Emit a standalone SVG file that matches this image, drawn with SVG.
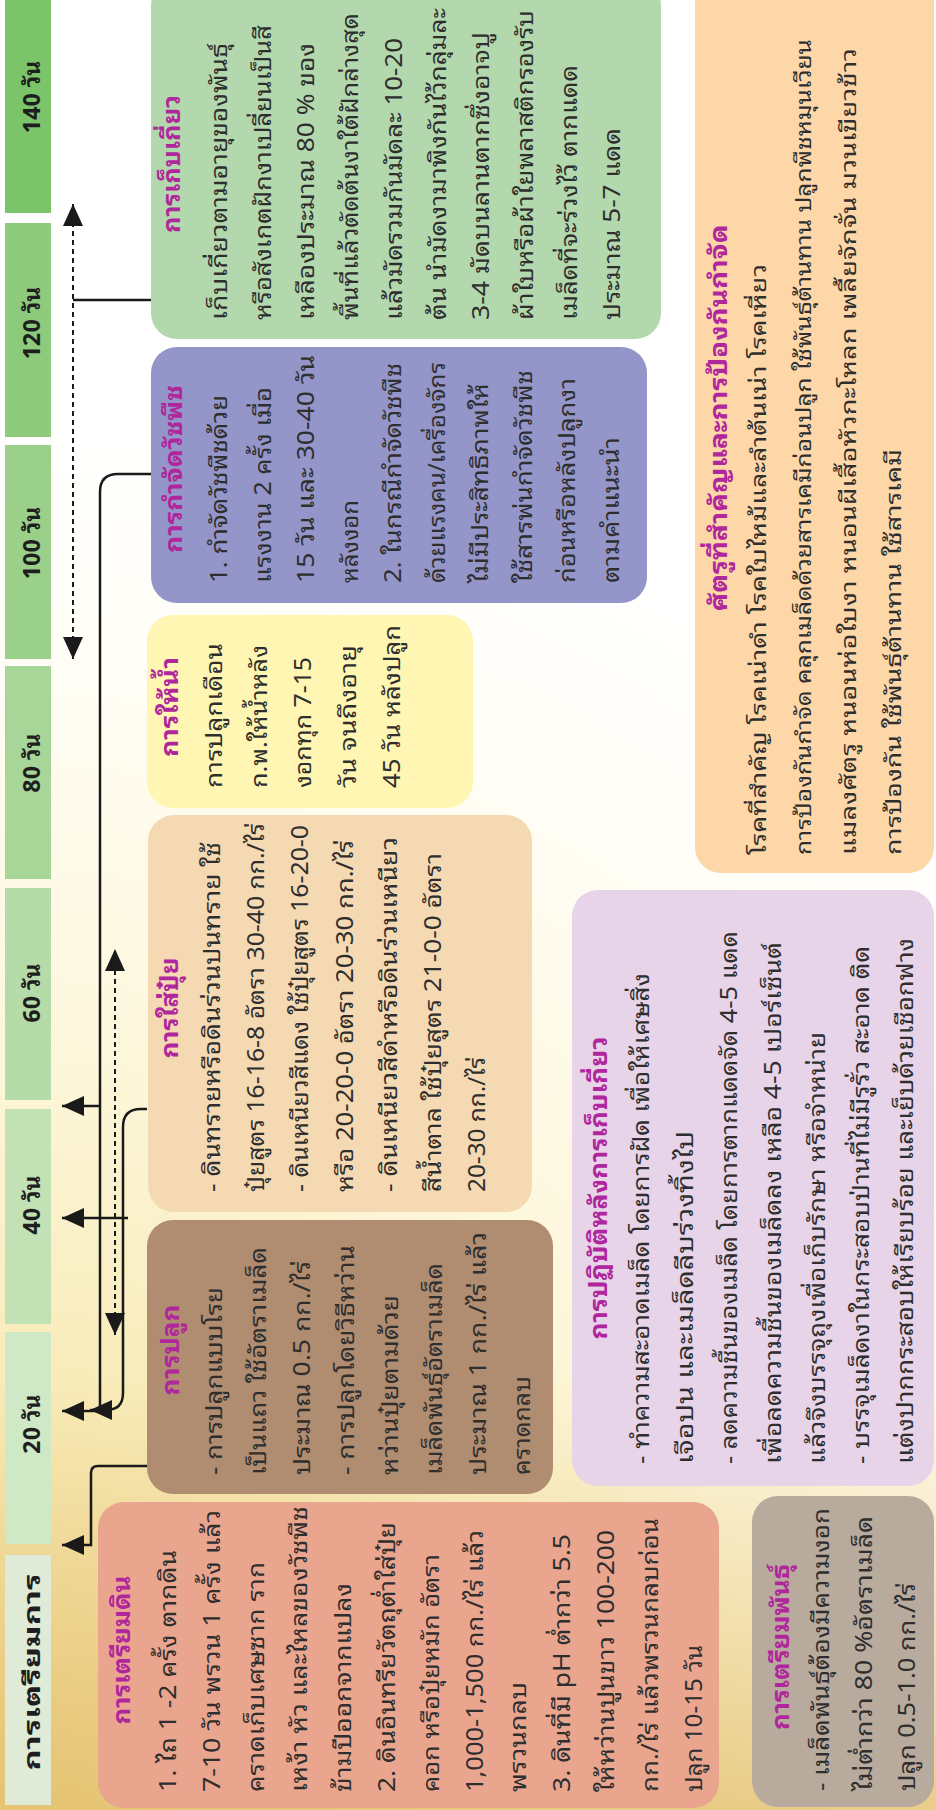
<svg xmlns="http://www.w3.org/2000/svg" width="936" height="1810" viewBox="0 0 936 1810">
<defs>
<style>
.t{font-family:"Noto Sans Thai Looped","Noto Sans Thai","Tlwg Typo","Loma","Garuda","Norasi","Noto Sans","DejaVu Sans",sans-serif}
.lbl{font-size:23px;font-weight:700;fill:#1e1e1e;text-anchor:middle}
.ttl{font-size:24px;font-weight:700;fill:#b0269c;text-anchor:middle}
.body{font-size:23px;fill:#2e2e2e}
.small{font-size:21px}
.conn{fill:none;stroke:#1a1a1a;stroke-width:2.5}
.dash{stroke-width:2;stroke-dasharray:5 4}
</style>
<marker id="arrow" viewBox="0 0 22 20" refX="22" refY="10" markerWidth="22" markerHeight="20" markerUnits="userSpaceOnUse" orient="auto-start-reverse">
<path d="M0,0 L22,10 L0,20 z" fill="#1a1a1a"/>
</marker>
<radialGradient id="bgGlow" cx="0" cy="1810" r="1400" gradientUnits="userSpaceOnUse">
<stop offset="0" stop-color="#efd58c"/>
<stop offset="0.3" stop-color="#f8ebb8"/>
<stop offset="0.55" stop-color="#fdf7dc"/>
<stop offset="0.8" stop-color="#fffdf4"/>
<stop offset="1" stop-color="#ffffff"/>
</radialGradient>
<linearGradient id="grain" x1="0" y1="1380" x2="0" y2="1810" gradientUnits="userSpaceOnUse">
<stop offset="0" stop-color="#e6c579" stop-opacity="0"/>
<stop offset="1" stop-color="#e2bd6a" stop-opacity="0.75"/>
</linearGradient>
</defs>

<!-- page background -->
<rect x="0" y="0" width="936" height="1810" fill="#ffffff"/>
<rect x="0" y="0" width="936" height="1810" fill="url(#bgGlow)"/>
<rect x="0" y="1380" width="936" height="430" fill="url(#grain)"/>

<!-- timeline -->
<g id="timeline" class="t">
<g id="day-140"><rect x="5" y="-10" width="46" height="223" fill="#7bc46a"/><text class="lbl" transform="translate(40,97) rotate(-90)">140 วัน</text></g>
<g id="day-120"><rect x="5" y="223" width="46" height="214" fill="#8dca7c"/><text class="lbl" transform="translate(40,323) rotate(-90)">120 วัน</text></g>
<g id="day-100"><rect x="5" y="445" width="46" height="214" fill="#9bd08a"/><text class="lbl" transform="translate(40,543) rotate(-90)">100 วัน</text></g>
<g id="day-80"><rect x="5" y="666" width="46" height="213" fill="#a8d699"/><text class="lbl" transform="translate(40,763) rotate(-90)">80 วัน</text></g>
<g id="day-60"><rect x="5" y="888" width="46" height="212" fill="#b5dca8"/><text class="lbl" transform="translate(40,993) rotate(-90)">60 วัน</text></g>
<g id="day-40"><rect x="5" y="1109" width="46" height="215" fill="#c2e2b6"/><text class="lbl" transform="translate(40,1205) rotate(-90)">40 วัน</text></g>
<g id="day-20"><rect x="5" y="1332" width="46" height="212" fill="#cfe8c5"/><text class="lbl" transform="translate(40,1424) rotate(-90)">20 วัน</text></g>
<g id="day-prep"><rect x="5" y="1555" width="46" height="250" fill="#dfebd6"/><text class="lbl" transform="translate(40,1672) rotate(-90)" textLength="197" lengthAdjust="spacingAndGlyphs">การเตรียมการ</text></g>
</g>

<!-- connectors -->
<g id="connectors">
<path class="conn dash" d="M73,659 V204" marker-start="url(#arrow)" marker-end="url(#arrow)"/>
<path class="conn" d="M151,300 H73"/>
<path class="conn" d="M151,474 H118 Q100,474 100,492 V1411 H62" marker-end="url(#arrow)"/>
<path class="conn" d="M100,1106 H62" marker-end="url(#arrow)"/>
<path class="conn" d="M147,1109 H141 Q123,1109 123,1127 V1393 Q123,1410 106,1410 H90" marker-end="url(#arrow)"/>
<path class="conn" d="M128,1218 H62" marker-end="url(#arrow)"/>
<path class="conn dash" d="M115,1335 V949" marker-start="url(#arrow)" marker-end="url(#arrow)"/>
<path class="conn" d="M147,1466 H98 Q91,1466 91,1473 V1545 H62" marker-end="url(#arrow)"/>
</g>

<!-- harvest -->
<g id="harvest" class="t">
<rect x="151" y="-20" width="510" height="359" rx="26" fill="#b4d8ad"/>
<text class="ttl" transform="translate(180,164) rotate(-90)" textLength="138" lengthAdjust="spacingAndGlyphs">การเก็บเกี่ยว</text>
<g class="body" transform="translate(227,320) rotate(-90)">
<text y="0" textLength="277" lengthAdjust="spacingAndGlyphs">เก็บเกี่ยวตามอายุของพันธุ์</text>
<text y="43.7" textLength="295" lengthAdjust="spacingAndGlyphs">หรือสังเกตฝักงาเปลี่ยนเป็นสี</text>
<text y="87.4" textLength="277" lengthAdjust="spacingAndGlyphs">เหลืองประมาณ 80 % ของ</text>
<text y="131.1" textLength="307" lengthAdjust="spacingAndGlyphs">พื้นที่แล้วตัดต้นงาใต้ฝักล่างสุด</text>
<text y="174.8" textLength="282" lengthAdjust="spacingAndGlyphs">แล้วมัดรวมกันมัดละ 10-20</text>
<text y="218.5" textLength="312" lengthAdjust="spacingAndGlyphs">ต้น นำมัดงามาพิงกันไว้กลุ่มละ</text>
<text y="262.2" textLength="288" lengthAdjust="spacingAndGlyphs">3-4 มัดบนลานตากซึ่งอาจปู</text>
<text y="305.9" textLength="310" lengthAdjust="spacingAndGlyphs">ผ้าใบหรือผ้าใยพลาสติกรองรับ</text>
<text y="349.6" textLength="255" lengthAdjust="spacingAndGlyphs">เมล็ดที่จะร่วงไว้ ตากแดด</text>
<text y="393.3" textLength="192" lengthAdjust="spacingAndGlyphs">ประมาณ 5-7 แดด</text>
</g>
</g>

<!-- weed control -->
<g id="weed-control" class="t">
<rect x="151" y="347" width="496" height="256" rx="26" fill="#9495c8"/>
<text class="ttl" transform="translate(182,469) rotate(-90)" textLength="168" lengthAdjust="spacingAndGlyphs">การกำจัดวัชพืช</text>
<g class="body" transform="translate(227,583) rotate(-90)">
<text y="0" textLength="188" lengthAdjust="spacingAndGlyphs">1. กำจัดวัชพืชด้วย</text>
<text y="43.5" textLength="196" lengthAdjust="spacingAndGlyphs">แรงงาน 2 ครั้ง เมื่อ</text>
<text y="87" textLength="228" lengthAdjust="spacingAndGlyphs">15 วัน และ 30-40 วัน</text>
<text y="130.5" textLength="83" lengthAdjust="spacingAndGlyphs">หลังงอก</text>
<text y="174" textLength="220" lengthAdjust="spacingAndGlyphs">2. ในกรณีกำจัดวัชพืช</text>
<text y="217.5" textLength="221" lengthAdjust="spacingAndGlyphs">ด้วยแรงคน/เครื่องจักร</text>
<text y="261" textLength="200" lengthAdjust="spacingAndGlyphs">ไม่มีประสิทธิภาพให้</text>
<text y="304.5" textLength="213" lengthAdjust="spacingAndGlyphs">ใช้สารพ่นกำจัดวัชพืช</text>
<text y="348" textLength="205" lengthAdjust="spacingAndGlyphs">ก่อนหรือหลังปลูกงา</text>
<text y="391.5" textLength="146" lengthAdjust="spacingAndGlyphs">ตามคำแนะนำ</text>
</g>
</g>

<!-- watering -->
<g id="watering" class="t">
<rect x="147" y="615" width="326" height="193" rx="26" fill="#fef6b2"/>
<text class="ttl" transform="translate(178,707) rotate(-90)" textLength="100" lengthAdjust="spacingAndGlyphs">การให้น้ำ</text>
<g class="body" transform="translate(222,788) rotate(-90)">
<text y="0" textLength="145" lengthAdjust="spacingAndGlyphs">การปลูกเดือน</text>
<text y="44.5" textLength="143" lengthAdjust="spacingAndGlyphs">ก.พ.ให้น้ำหลัง</text>
<text y="89" textLength="131" lengthAdjust="spacingAndGlyphs">งอกทุก 7-15</text>
<text y="133.5" textLength="143" lengthAdjust="spacingAndGlyphs">วัน จนถึงอายุ</text>
<text y="178" textLength="163" lengthAdjust="spacingAndGlyphs">45 วัน หลังปลูก</text>
</g>
</g>

<!-- fertilizing -->
<g id="fertilizing" class="t">
<rect x="148" y="815" width="384" height="397" rx="26" fill="#f5d9b3"/>
<text class="ttl" transform="translate(178,1008) rotate(-90)" textLength="101" lengthAdjust="spacingAndGlyphs">การใส่ปุ๋ย</text>
<g class="body" transform="translate(220,1192) rotate(-90)">
<text y="0" textLength="350" lengthAdjust="spacingAndGlyphs">- ดินทรายหรือดินร่วนปนทราย ใช้</text>
<text y="44.2" textLength="369" lengthAdjust="spacingAndGlyphs">ปุ๋ยสูตร 16-16-8 อัตรา 30-40 กก./ไร่</text>
<text y="88.4" textLength="367" lengthAdjust="spacingAndGlyphs">- ดินเหนียวสีแดง ใช้ปุ๋ยสูตร 16-20-0</text>
<text y="132.6" textLength="352" lengthAdjust="spacingAndGlyphs">หรือ 20-20-0 อัตรา 20-30 กก./ไร่</text>
<text y="176.8" textLength="355" lengthAdjust="spacingAndGlyphs">- ดินเหนียวสีดำหรือดินร่วนเหนียว</text>
<text y="221" textLength="339" lengthAdjust="spacingAndGlyphs">สีน้ำตาล ใช้ปุ๋ยสูตร 21-0-0 อัตรา</text>
<text y="265.2" textLength="135" lengthAdjust="spacingAndGlyphs">20-30 กก./ไร่</text>
</g>
</g>

<!-- planting -->
<g id="planting" class="t">
<rect x="147" y="1220" width="406" height="274" rx="26" fill="#b08c70"/>
<text class="ttl" transform="translate(179,1350) rotate(-90)" textLength="91" lengthAdjust="spacingAndGlyphs">การปลูก</text>
<g class="body" transform="translate(222,1475) rotate(-90)">
<text y="0" textLength="188" lengthAdjust="spacingAndGlyphs">- การปลูกแบบโรย</text>
<text y="44" textLength="228" lengthAdjust="spacingAndGlyphs">เป็นแถว ใช้อัตราเมล็ด</text>
<text y="88" textLength="214" lengthAdjust="spacingAndGlyphs">ประมาณ 0.5 กก./ไร่</text>
<text y="132" textLength="230" lengthAdjust="spacingAndGlyphs">- การปลูกโดยวิธีหว่าน</text>
<text y="176" textLength="180" lengthAdjust="spacingAndGlyphs">หว่านปุ๋ยตามด้วย</text>
<text y="220" textLength="212" lengthAdjust="spacingAndGlyphs">เมล็ดพันธุ์อัตราเมล็ด</text>
<text y="264" textLength="243" lengthAdjust="spacingAndGlyphs">ประมาณ 1 กก./ไร่ แล้ว</text>
<text y="308" textLength="99" lengthAdjust="spacingAndGlyphs">คราดกลบ</text>
</g>
</g>

<!-- soil preparation -->
<g id="soil-prep" class="t">
<rect x="98" y="1502" width="621" height="306" rx="26" fill="#eaa58e"/>
<text class="ttl" transform="translate(130,1650) rotate(-90)" textLength="149" lengthAdjust="spacingAndGlyphs">การเตรียมดิน</text>
<g class="body" transform="translate(176,1792) rotate(-90)">
<text y="0" textLength="242" lengthAdjust="spacingAndGlyphs">1. ไถ 1 -2 ครั้ง ตากดิน</text>
<text y="43.8" textLength="282" lengthAdjust="spacingAndGlyphs">7-10 วัน พรวน 1 ครั้ง แล้ว</text>
<text y="87.6" textLength="230" lengthAdjust="spacingAndGlyphs">คราดเก็บเศษซาก ราก</text>
<text y="131.4" textLength="286" lengthAdjust="spacingAndGlyphs">เหง้า หัว และไหลของวัชพืช</text>
<text y="175.2" textLength="209" lengthAdjust="spacingAndGlyphs">ข้ามปีออกจากแปลง</text>
<text y="219" textLength="270" lengthAdjust="spacingAndGlyphs">2. ดินอินทรียวัตถุต่ำใส่ปุ๋ย</text>
<text y="262.8" textLength="238" lengthAdjust="spacingAndGlyphs">คอก หรือปุ๋ยหมัก อัตรา</text>
<text y="306.6" textLength="262" lengthAdjust="spacingAndGlyphs">1,000-1,500 กก./ไร่ แล้ว</text>
<text y="350.4" textLength="110" lengthAdjust="spacingAndGlyphs">พรวนกลบ</text>
<text y="394.2" textLength="258" lengthAdjust="spacingAndGlyphs">3. ดินที่มี pH ต่ำกว่า 5.5</text>
<text y="438" textLength="262" lengthAdjust="spacingAndGlyphs">ให้หว่านปูนขาว 100-200</text>
<text y="481.8" textLength="274" lengthAdjust="spacingAndGlyphs">กก./ไร่ แล้วพรวนกลบก่อน</text>
<text y="525.6" textLength="147" lengthAdjust="spacingAndGlyphs">ปลูก 10-15 วัน</text>
</g>
</g>

<!-- pests and control -->
<g id="pests" class="t">
<rect x="695" y="-40" width="239" height="913" rx="26" fill="#fdd7a8"/>
<text class="ttl" transform="translate(727,418) rotate(-90)" textLength="387" lengthAdjust="spacingAndGlyphs">ศัตรูที่สำคัญและการป้องกันกำจัด</text>
<g class="body small" transform="translate(766,855) rotate(-90)">
<text y="0" textLength="591" lengthAdjust="spacingAndGlyphs">โรคที่สำคัญ  โรคเน่าดำ โรคใบไหม้และลำต้นเน่า โรคเหี่ยว</text>
<text y="45" textLength="816" lengthAdjust="spacingAndGlyphs">การป้องกันกำจัด คลุกเมล็ดด้วยสารเคมีก่อนปลูก ใช้พันธุ์ต้านทาน ปลูกพืชหมุนเวียน</text>
<text y="90" textLength="807" lengthAdjust="spacingAndGlyphs">แมลงศัตรู หนอนห่อใบงา หนอนผีเสื้อหัวกะโหลก เพลี้ยจักจั่น  มวนเขียวข้าว</text>
<text y="135" textLength="406" lengthAdjust="spacingAndGlyphs">การป้องกัน ใช้พันธุ์ต้านทาน ใช้สารเคมี</text>
</g>
</g>

<!-- post-harvest -->
<g id="post-harvest" class="t">
<rect x="572" y="890" width="362" height="596" rx="26" fill="#e7d4e8"/>
<text class="ttl" transform="translate(607,1188) rotate(-90)" textLength="303" lengthAdjust="spacingAndGlyphs">การปฏิบัติหลังการเก็บเกี่ยว</text>
<g class="body" transform="translate(649,1464) rotate(-90)">
<text y="0" textLength="491" lengthAdjust="spacingAndGlyphs">- ทำความสะอาดเมล็ด โดยการฝัด เพื่อให้เศษสิ่ง</text>
<text y="44" textLength="333" lengthAdjust="spacingAndGlyphs">เจือปน และเมล็ดลีบร่วงทิ้งไป</text>
<text y="88" textLength="533" lengthAdjust="spacingAndGlyphs">- ลดความชื้นของเมล็ด โดยการตากแดดจัด 4-5 แดด</text>
<text y="132" textLength="522" lengthAdjust="spacingAndGlyphs">เพื่อลดความชื้นของเมล็ดลง เหลือ 4-5 เปอร์เซ็นต์</text>
<text y="176" textLength="432" lengthAdjust="spacingAndGlyphs">แล้วจึงบรรจุถุงเพื่อเก็บรักษา หรือจำหน่าย</text>
<text y="220" textLength="518" lengthAdjust="spacingAndGlyphs">- บรรจุเมล็ดงาในกระสอบป่านที่ไม่มีรูรั่ว สะอาด ติด</text>
<text y="264" textLength="526" lengthAdjust="spacingAndGlyphs">แต่งปากกระสอบให้เรียบร้อย และเย็บด้วยเชือกฟาง</text>
</g>
</g>

<!-- seed preparation -->
<g id="seed-prep" class="t">
<rect x="752" y="1496" width="182" height="311" rx="26" fill="#b8aa9d"/>
<text class="ttl" transform="translate(789,1647) rotate(-90)" textLength="166" lengthAdjust="spacingAndGlyphs">การเตรียมพันธุ์</text>
<g class="body" transform="translate(829,1791) rotate(-90)">
<text y="0" textLength="283" lengthAdjust="spacingAndGlyphs">- เมล็ดพันธุ์ต้องมีความงอก</text>
<text y="43" textLength="275" lengthAdjust="spacingAndGlyphs">ไม่ต่ำกว่า 80 %อัตราเมล็ด</text>
<text y="86" textLength="208" lengthAdjust="spacingAndGlyphs">ปลูก 0.5-1.0 กก./ไร่</text>
</g>
</g>
</svg>
